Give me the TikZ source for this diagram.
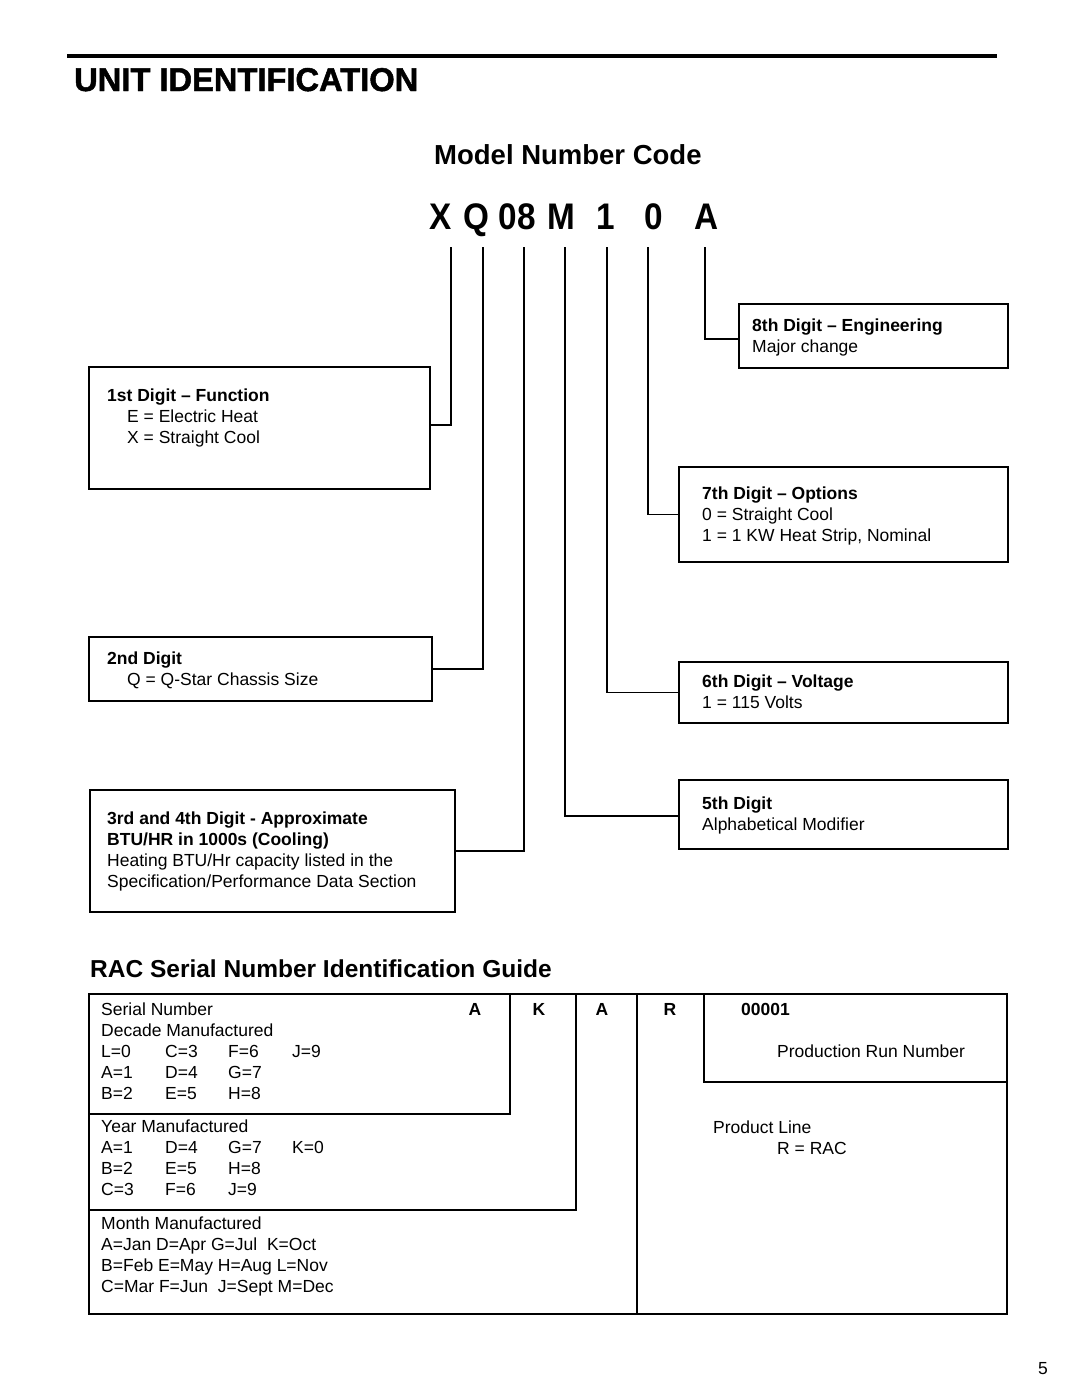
\documentclass[tikz,border=0pt]{standalone}
\usepackage{fontspec}
\setmainfont{Liberation Sans}
\newfontfamily\heavyfont{Liberation Sans}[UprightFont=* Bold, FakeBold=1.5]
\usepackage{graphicx}
\newcommand{\codechar}[1]{\scalebox{0.9}[1]{#1}}
\begin{document}
\begin{tikzpicture}[x=1pt,y=-1pt,
  box/.style={draw, line width=1.8pt, anchor=north west, inner sep=0pt},
  conn/.style={line width=1.8pt},
  rule/.style={line width=1.8pt},
  txt/.style={anchor=base west, inner sep=0pt, font=\fontsize{17.5}{21}\selectfont},
  btxt/.style={anchor=base west, inner sep=0pt, font=\fontsize{17.5}{21}\selectfont\bfseries},
  bctr/.style={anchor=base, inner sep=0pt, font=\fontsize{17.5}{21}\selectfont\bfseries},
  digit/.style={anchor=base, inner sep=0pt, font=\fontsize{37}{40}\selectfont\bfseries},
]
\fill[white] (0,0) rectangle (1080,1397);
\useasboundingbox (0,0) rectangle (1080,1397);

% header
\draw[line width=3.5pt] (67,56) -- (997,56);
\node[anchor=base west, inner sep=0pt] (title) at (74,91) {\resizebox{344pt}{23pt}{\heavyfont UNIT IDENTIFICATION}};
\node[anchor=base west, inner sep=0pt, font=\fontsize{27.5}{30}\selectfont\bfseries] (mnc) at (434,164) {Model Number Code};

% model code characters
\node[digit] (cX) at (441,229) {\codechar{X}};
\node[digit] (cQ) at (476,229) {\codechar{Q}};
\node[digit] (c08) at (517,229) {\codechar{08}};
\node[digit] (cM) at (561,229) {\codechar{M}};
\node[digit] (c1) at (606,229) {\codechar{1}};
\node[digit] (c0) at (654,229) {\codechar{0}};
\node[digit] (cA) at (707,229) {\codechar{A}};

\coordinate (t1) at (451,247);
\coordinate (t2) at (483,247);
\coordinate (t3) at (524,247);
\coordinate (t4) at (565,247);
\coordinate (t5) at (607,247);
\coordinate (t6) at (648,247);
\coordinate (t7) at (705,247);

% boxes
\node[box, minimum width=341pt, minimum height=122pt] (b1) at (88,366) {};
\node[box, minimum width=343pt, minimum height=64pt] (b2) at (88,636) {};
\node[box, minimum width=365pt, minimum height=122pt] (b3) at (89,789) {};
\node[box, minimum width=329pt, minimum height=69pt] (b5) at (678,779) {};
\node[box, minimum width=329pt, minimum height=61pt] (b6) at (678,661) {};
\node[box, minimum width=329pt, minimum height=95pt] (b7) at (678,466) {};
\node[box, minimum width=269pt, minimum height=64pt] (b8) at (738,303) {};

% connectors
\draw[conn] ([yshift=3pt]b1.east) -| (t1);
\draw[conn] (b2.east) -| (t2);
\draw[conn] (b3.east) -| (t3);
\draw[conn] ([yshift=-1.5pt]b5.west) -| (t4);
\draw[conn] (b6.west) -| (t5);
\draw[conn] (b7.west) -| (t6);
\draw[conn] ([yshift=-3pt]b8.west) -| (t7);

% box texts
\node[btxt] (b1h) at (107,401) {1st Digit – Function};
\node[txt] (b1a) at (127,422) {E = Electric Heat};
\node[txt] (b1b) at (127,443) {X = Straight Cool};

\node[btxt] (b2h) at (107,664) {2nd Digit};
\node[txt] (b2a) at (127,685) {Q = Q-Star Chassis Size};

\node[btxt] (b3h) at (107,824) {3rd and 4th Digit - Approximate};
\node[btxt] (b3i) at (107,845) {BTU/HR in 1000s (Cooling)};
\node[txt] (b3a) at (107,866) {Heating BTU/Hr capacity listed in the};
\node[txt] (b3b) at (107,887) {Specification/Performance Data Section};

\node[btxt] (b8h) at (752,331) {8th Digit – Engineering};
\node[txt] (b8a) at (752,352) {Major change};

\node[btxt] (b7h) at (702,499) {7th Digit – Options};
\node[txt] (b7a) at (702,520) {0 = Straight Cool};
\node[txt] (b7b) at (702,541) {1 = 1 KW Heat Strip, Nominal};

\node[btxt] (b6h) at (702,687) {6th Digit – Voltage};
\node[txt] (b6a) at (702,708) {1 = 115 Volts};

\node[btxt] (b5h) at (702,809) {5th Digit};
\node[txt] (b5a) at (702,830) {Alphabetical Modifier};

% serial section
\node[anchor=base west, inner sep=0pt, font=\fontsize{24.5}{28}\selectfont\bfseries] (rac) at (90,977) {RAC Serial Number Identification Guide};

\draw[rule] (89,994) rectangle (1007,1314);
\draw[rule] (89,1114) -- (510,1114) -- (510,994);
\draw[rule] (89,1210) -- (576,1210) -- (576,994);
\draw[rule] (637,994) -- (637,1314);
\draw[rule] (704,994) -- (704,1082) -- (1007,1082);

\node[txt] (sn) at (101,1015) {Serial Number};
\node[bctr] (lA1) at (475,1015) {A};
\node[bctr] (lK) at (539,1015) {K};
\node[bctr] (lA2) at (602,1015) {A};
\node[bctr] (lR) at (670,1015) {R};
\node[btxt] (l0) at (741,1015) {00001};

\node[txt] (dm) at (101,1036) {Decade Manufactured};
\node[txt] (d11) at (101,1057) {L=0};
\node[txt] (d12) at (165,1057) {C=3};
\node[txt] (d13) at (228,1057) {F=6};
\node[txt] (d14) at (292,1057) {J=9};
\node[txt] (d21) at (101,1078) {A=1};
\node[txt] (d22) at (165,1078) {D=4};
\node[txt] (d23) at (228,1078) {G=7};
\node[txt] (d31) at (101,1099) {B=2};
\node[txt] (d32) at (165,1099) {E=5};
\node[txt] (d33) at (228,1099) {H=8};

\node[txt] (ym) at (101,1132) {Year Manufactured};
\node[txt] (y11) at (101,1153) {A=1};
\node[txt] (y12) at (165,1153) {D=4};
\node[txt] (y13) at (228,1153) {G=7};
\node[txt] (y14) at (292,1153) {K=0};
\node[txt] (y21) at (101,1174) {B=2};
\node[txt] (y22) at (165,1174) {E=5};
\node[txt] (y23) at (228,1174) {H=8};
\node[txt] (y31) at (101,1195) {C=3};
\node[txt] (y32) at (165,1195) {F=6};
\node[txt] (y33) at (228,1195) {J=9};

\node[txt] (mm) at (101,1229) {Month Manufactured};
\node[txt] (m1) at (101,1250) {A=Jan D=Apr G=Jul\ \ K=Oct};
\node[txt] (m2) at (101,1271) {B=Feb E=May H=Aug L=Nov};
\node[txt] (m3) at (101,1292) {C=Mar F=Jun\ \ J=Sept M=Dec};

\node[txt] (prn) at (777,1057) {Production Run Number};
\node[txt] (pl) at (713,1133) {Product Line};
\node[txt] (plr) at (777,1154) {R = RAC};

\node[anchor=base, inner sep=0pt, font=\fontsize{17.5}{21}\selectfont] (pg) at (1043,1374) {5};
\end{tikzpicture}
\end{document}
